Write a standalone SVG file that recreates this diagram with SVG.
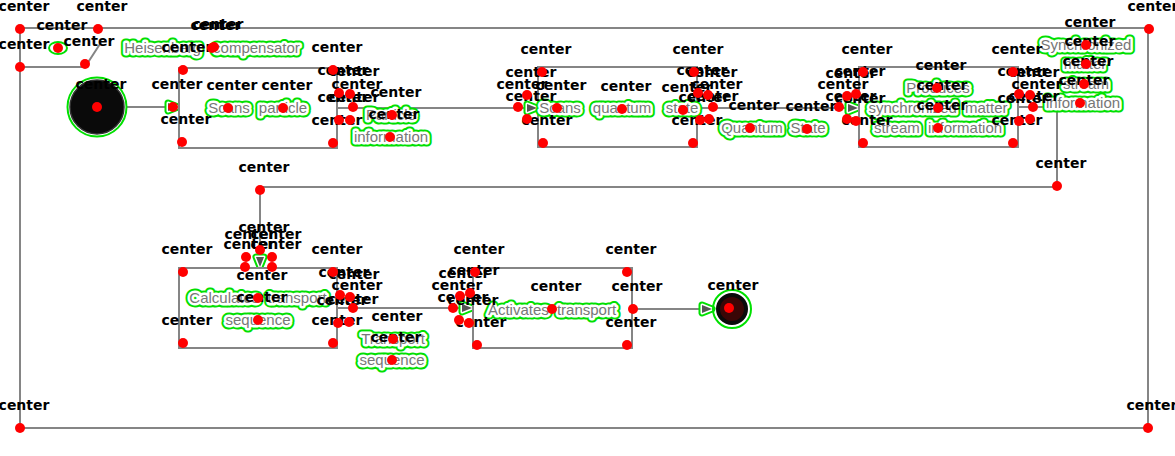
<svg xmlns="http://www.w3.org/2000/svg" width="1175" height="456" viewBox="0 0 1175 456">
<style>
.ln{fill:none;stroke:#858585;stroke-width:2}
.box{fill:#fff;stroke:#858585;stroke-width:2}
.t{font-family:"Liberation Sans",Arial,sans-serif;font-size:15px;text-anchor:middle;word-spacing:4px}
.g{fill:#00e000;stroke:#00e000;stroke-width:9;stroke-linejoin:round}
.w{fill:#fff;stroke:#fff;stroke-width:5;stroke-linejoin:round}
.f{fill:#777;stroke:none}
.c{font-family:"DejaVu Sans",sans-serif;font-size:14px;font-weight:bold;fill:#000;text-anchor:middle}
.d{fill:#ff0000}
.ring{fill:none;stroke:#00e000;stroke-width:2}
</style>
<defs>
<marker id="ah" viewBox="-6 -9 22 18" refX="10" refY="0" markerWidth="22" markerHeight="18" markerUnits="userSpaceOnUse" orient="auto" overflow="visible">
<path d="M0,-4 L10,0 L0,4 Z" fill="#00e000" stroke="#00e000" stroke-width="7" stroke-linejoin="round"/>
<path d="M0,-4 L10,0 L0,4 Z" fill="#fff" stroke="#fff" stroke-width="3" stroke-linejoin="round"/>
<path d="M0,-4 L10,0 L0,4 Z" fill="#555"/>
</marker>
<text id="x1" class="t" x="212" y="53" style="word-spacing:8px">Heisenberg compensator</text>
<text id="x2" class="t" x="229" y="113">Scans</text>
<text id="x3" class="t" x="283" y="113">particle</text>
<text id="x4" class="t" x="391" y="120">Particle</text>
<text id="x5" class="t" x="391" y="142">information</text>
<text id="x6" class="t" x="560" y="113">Scans</text>
<text id="x7" class="t" x="622" y="113">quantum</text>
<text id="x8" class="t" x="682" y="113">state</text>
<text id="x9" class="t" x="752" y="133">Quantum</text>
<text id="x10" class="t" x="808" y="133">State</text>
<text id="x11" class="t" x="938" y="93">Produces</text>
<text id="x12" class="t" x="938" y="113">synchronized matter</text>
<text id="x13" class="t" x="938" y="133">stream information</text>
<text id="x14" class="t" x="1086" y="50">Synchronized</text>
<text id="x15" class="t" x="1085" y="69">matter</text>
<text id="x16" class="t" x="1086" y="89">stream</text>
<text id="x17" class="t" x="1083" y="108">information</text>
<text id="x18" class="t" x="258" y="303">Calculates transport</text>
<text id="x19" class="t" x="258" y="325">sequence</text>
<text id="x20" class="t" x="393" y="344">Transport</text>
<text id="x21" class="t" x="392" y="365">sequence</text>
<text id="x22" class="t" x="552" y="315">Activates transport</text>
</defs>
<rect width="1175" height="456" fill="#fff"/>
<g id="pool">
<rect class="ln" x="20" y="28" width="1128" height="400"/>
</g>
<g id="annotation">
<polyline class="ln" points="20,67 85,67 100,44"/>
<ellipse cx="58" cy="48" rx="9" ry="6" fill="#fff" stroke="#00e000" stroke-width="2"/>
<g><use href="#x1" class="g"/><use href="#x1" class="w"/><use href="#x1" class="f"/></g>
</g>
<g id="connectors">
<path class="ln" d="M126,107 H178" marker-end="url(#ah)"/>
<path class="ln" d="M337,108 H537" marker-end="url(#ah)"/>
<path class="ln" d="M697,108 H858" marker-end="url(#ah)"/>
<path class="ln" d="M1018,107 H1057 V187 H260 V267" marker-end="url(#ah)"/>
<path class="ln" d="M337,308 H472" marker-end="url(#ah)"/>
<path class="ln" d="M632,309 H712" marker-end="url(#ah)"/>
<g><use href="#x4" class="g"/><use href="#x4" class="w"/><use href="#x4" class="f"/></g>
<g><use href="#x5" class="g"/><use href="#x5" class="w"/><use href="#x5" class="f"/></g>
<g><use href="#x9" class="g"/><use href="#x9" class="w"/><use href="#x9" class="f"/></g>
<g><use href="#x10" class="g"/><use href="#x10" class="w"/><use href="#x10" class="f"/></g>
<g><use href="#x14" class="g"/><use href="#x14" class="w"/><use href="#x14" class="f"/></g>
<g><use href="#x15" class="g"/><use href="#x15" class="w"/><use href="#x15" class="f"/></g>
<g><use href="#x16" class="g"/><use href="#x16" class="w"/><use href="#x16" class="f"/></g>
<g><use href="#x17" class="g"/><use href="#x17" class="w"/><use href="#x17" class="f"/></g>
<g><use href="#x20" class="g"/><use href="#x20" class="w"/><use href="#x20" class="f"/></g>
<g><use href="#x21" class="g"/><use href="#x21" class="w"/><use href="#x21" class="f"/></g>
</g>
<g id="start">
<circle class="ring" cx="97" cy="107" r="29.5"/>
<circle cx="97" cy="107" r="27" fill="#0a0a0a" stroke="#333" stroke-width="1.5"/>
</g>
<g id="task1">
<rect class="box" x="179" y="68" width="158" height="80"/>
<g><use href="#x2" class="g"/><use href="#x2" class="w"/><use href="#x2" class="f"/></g>
<g><use href="#x3" class="g"/><use href="#x3" class="w"/><use href="#x3" class="f"/></g>
</g>
<g id="task2">
<rect class="box" x="538" y="67" width="159" height="80"/>
<g><use href="#x6" class="g"/><use href="#x6" class="w"/><use href="#x6" class="f"/></g>
<g><use href="#x7" class="g"/><use href="#x7" class="w"/><use href="#x7" class="f"/></g>
<g><use href="#x8" class="g"/><use href="#x8" class="w"/><use href="#x8" class="f"/></g>
</g>
<g id="task3">
<rect class="box" x="859" y="67" width="159" height="80"/>
<g><use href="#x11" class="g"/><use href="#x11" class="w"/><use href="#x11" class="f"/></g>
<g><use href="#x12" class="g"/><use href="#x12" class="w"/><use href="#x12" class="f"/></g>
<g><use href="#x13" class="g"/><use href="#x13" class="w"/><use href="#x13" class="f"/></g>
</g>
<g id="task4">
<rect class="box" x="179" y="268" width="158" height="80"/>
<g><use href="#x18" class="g"/><use href="#x18" class="w"/><use href="#x18" class="f"/></g>
<g><use href="#x19" class="g"/><use href="#x19" class="w"/><use href="#x19" class="f"/></g>
</g>
<g id="task5">
<rect class="box" x="473" y="268" width="159" height="80"/>
<g><use href="#x22" class="g"/><use href="#x22" class="w"/><use href="#x22" class="f"/></g>
</g>
<g id="end">
<circle class="ring" cx="732" cy="309" r="19"/>
<circle cx="732" cy="309" r="14" fill="#3a0606" stroke="#0a0a0a" stroke-width="4"/>
</g>
<g id="center-labels" class="c">
<text x="24" y="11">center</text><text x="102" y="11">center</text><text x="62" y="30">center</text><text x="24" y="49">center</text><text x="89" y="46">center</text><text x="216" y="30">center</text><text x="218" y="29">center</text><text x="101" y="89">center</text><text x="177" y="89">center</text>
<text x="187" y="52">center</text><text x="337" y="52">center</text><text x="186" y="124">center</text><text x="337" y="125">center</text><text x="232" y="90">center</text><text x="287" y="90">center</text>
<text x="343" y="75">center</text><text x="354" y="76">center</text><text x="357" y="89">center</text><text x="343" y="102">center</text><text x="354" y="102">center</text><text x="396" y="97">center</text><text x="394" y="119">center</text>
<text x="546" y="54">center</text><text x="698" y="54">center</text><text x="547" y="125">center</text><text x="697" y="125">center</text><text x="531" y="77">center</text><text x="522" y="89">center</text><text x="531" y="101">center</text>
<text x="561" y="90">center</text><text x="626" y="91">center</text><text x="687" y="92">center</text>
<text x="702" y="75">center</text><text x="712" y="77">center</text><text x="717" y="89">center</text><text x="704" y="102">center</text><text x="713" y="101">center</text>
<text x="754" y="110">center</text><text x="811" y="111">center</text>
<text x="867" y="54">center</text><text x="1017" y="54">center</text><text x="867" y="125">center</text><text x="1017" y="125">center</text>
<text x="843" y="89">center</text><text x="851" y="78">center</text><text x="860" y="76">center</text><text x="851" y="101">center</text><text x="860" y="103">center</text>
<text x="941" y="70">center</text><text x="942" y="90">center</text><text x="942" y="110">center</text>
<text x="1023" y="76">center</text><text x="1034" y="77">center</text><text x="1037" y="89">center</text><text x="1023" y="103">center</text><text x="1034" y="101">center</text>
<text x="1090" y="27">center</text><text x="1090" y="46">center</text><text x="1088" y="66">center</text><text x="1084" y="85">center</text>
<text x="1153" y="11">center</text><text x="1061" y="168">center</text><text x="264" y="172">center</text><text x="24" y="410">center</text><text x="1152" y="410">center</text>
<text x="264" y="232">center</text><text x="250" y="239">center</text><text x="276" y="239">center</text><text x="249" y="249">center</text><text x="276" y="249">center</text>
<text x="187" y="254">center</text><text x="337" y="254">center</text><text x="187" y="325">center</text><text x="337" y="325">center</text><text x="262" y="280">center</text><text x="262" y="302">center</text>
<text x="344" y="277">center</text><text x="354" y="279">center</text><text x="357" y="290">center</text><text x="342" y="305">center</text><text x="353" y="304">center</text>
<text x="397" y="321">center</text><text x="396" y="342">center</text>
<text x="479" y="254">center</text><text x="631" y="254">center</text><text x="481" y="327">center</text><text x="631" y="327">center</text>
<text x="474" y="275">center</text><text x="464" y="278">center</text><text x="457" y="290">center</text><text x="463" y="302">center</text><text x="473" y="305">center</text>
<text x="556" y="291">center</text><text x="637" y="291">center</text><text x="733" y="290">center</text>
</g>
<g id="center-dots" class="d">
<circle cx="20" cy="29" r="5"/><circle cx="98" cy="29" r="5"/><circle cx="58" cy="48" r="5"/><circle cx="20" cy="67" r="5"/><circle cx="85" cy="64" r="5"/><circle cx="212" cy="48" r="5"/><circle cx="214" cy="47" r="5"/><circle cx="97" cy="107" r="5"/><circle cx="173" cy="107" r="5"/>
<circle cx="183" cy="70" r="5"/><circle cx="333" cy="70" r="5"/><circle cx="182" cy="142" r="5"/><circle cx="333" cy="143" r="5"/><circle cx="228" cy="108" r="5"/><circle cx="283" cy="108" r="5"/>
<circle cx="339" cy="93" r="5"/><circle cx="350" cy="94" r="5"/><circle cx="353" cy="107" r="5"/><circle cx="339" cy="120" r="5"/><circle cx="350" cy="120" r="5"/><circle cx="392" cy="115" r="5"/><circle cx="390" cy="137" r="5"/>
<circle cx="542" cy="72" r="5"/><circle cx="694" cy="72" r="5"/><circle cx="543" cy="143" r="5"/><circle cx="693" cy="143" r="5"/><circle cx="527" cy="95" r="5"/><circle cx="518" cy="107" r="5"/><circle cx="527" cy="119" r="5"/>
<circle cx="557" cy="108" r="5"/><circle cx="622" cy="109" r="5"/><circle cx="683" cy="110" r="5"/>
<circle cx="698" cy="93" r="5"/><circle cx="708" cy="95" r="5"/><circle cx="713" cy="107" r="5"/><circle cx="700" cy="120" r="5"/><circle cx="709" cy="119" r="5"/>
<circle cx="750" cy="128" r="5"/><circle cx="807" cy="129" r="5"/>
<circle cx="863" cy="72" r="5"/><circle cx="1013" cy="72" r="5"/><circle cx="863" cy="143" r="5"/><circle cx="1013" cy="143" r="5"/>
<circle cx="839" cy="107" r="5"/><circle cx="847" cy="96" r="5"/><circle cx="856" cy="94" r="5"/><circle cx="847" cy="119" r="5"/><circle cx="856" cy="121" r="5"/>
<circle cx="937" cy="88" r="5"/><circle cx="938" cy="108" r="5"/><circle cx="938" cy="128" r="5"/>
<circle cx="1019" cy="94" r="5"/><circle cx="1030" cy="95" r="5"/><circle cx="1033" cy="107" r="5"/><circle cx="1019" cy="121" r="5"/><circle cx="1030" cy="119" r="5"/>
<circle cx="1086" cy="45" r="5"/><circle cx="1086" cy="64" r="5"/><circle cx="1084" cy="84" r="5"/><circle cx="1080" cy="103" r="5"/>
<circle cx="1149" cy="29" r="5"/><circle cx="1057" cy="186" r="5"/><circle cx="260" cy="190" r="5"/><circle cx="20" cy="428" r="5"/><circle cx="1148" cy="428" r="5"/>
<circle cx="260" cy="250" r="5"/><circle cx="246" cy="257" r="5"/><circle cx="272" cy="257" r="5"/><circle cx="245" cy="267" r="5"/><circle cx="272" cy="267" r="5"/>
<circle cx="183" cy="272" r="5"/><circle cx="333" cy="272" r="5"/><circle cx="183" cy="343" r="5"/><circle cx="333" cy="343" r="5"/><circle cx="258" cy="298" r="5"/><circle cx="258" cy="320" r="5"/>
<circle cx="340" cy="295" r="5"/><circle cx="350" cy="297" r="5"/><circle cx="353" cy="308" r="5"/><circle cx="338" cy="323" r="5"/><circle cx="349" cy="322" r="5"/>
<circle cx="393" cy="339" r="5"/><circle cx="392" cy="360" r="5"/>
<circle cx="475" cy="272" r="5"/><circle cx="627" cy="272" r="5"/><circle cx="477" cy="345" r="5"/><circle cx="627" cy="345" r="5"/>
<circle cx="470" cy="293" r="5"/><circle cx="460" cy="296" r="5"/><circle cx="453" cy="308" r="5"/><circle cx="459" cy="320" r="5"/><circle cx="469" cy="323" r="5"/>
<circle cx="552" cy="309" r="5"/><circle cx="633" cy="309" r="5"/><circle cx="729" cy="308" r="5"/>
</g>
</svg>
